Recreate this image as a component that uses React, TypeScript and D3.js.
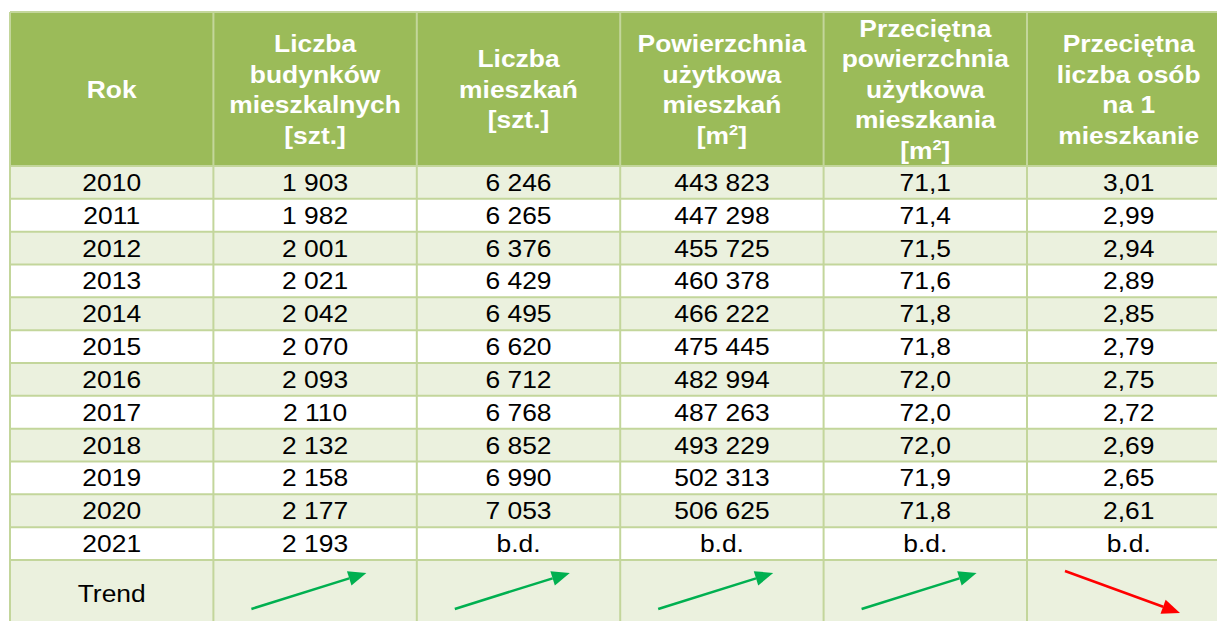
import React from "react"
import * as d3 from "d3"

// Data
const years = ["2010", "2011", "2012", "2013", "2014", "2015", "2016", "2017", "2018", "2019", "2020", "2021"]
const buildings = [1903, 1982, 2001, 2021, 2042, 2070, 2093, 2110, 2132, 2158, 2177, 2193]
const dwellings = [6246, 6265, 6376, 6429, 6495, 6620, 6712, 6768, 6852, 6990, 7053, null]
const usableArea = [443823, 447298, 455725, 460378, 466222, 475445, 482994, 487263, 493229, 502313, 506625, null]
const avgArea = [71.1, 71.4, 71.5, 71.6, 71.8, 71.8, 72.0, 72.0, 72.0, 71.9, 71.8, null]
const personsPerDwelling = [3.01, 2.99, 2.94, 2.89, 2.85, 2.79, 2.75, 2.72, 2.69, 2.65, 2.61, null]
const trends = ["up", "up", "up", "up", "down"]

// header lines; "^2" marks a superscript 2
const headers = [
  ["Rok"],
  ["Liczba", "budynków", "mieszkalnych", "[szt.]"],
  ["Liczba", "mieszkań", "[szt.]"],
  ["Powierzchnia", "użytkowa", "mieszkań", "[m^2]"],
  ["Przeciętna", "powierzchnia", "użytkowa", "mieszkania", "[m^2]"],
  ["Przeciętna", "liczba osób", "na 1", "mieszkanie"],
]

const pl = d3.formatLocale({ decimal: ",", thousands: " ", grouping: [3], currency: ["", " zł"] })
const fmtInt = pl.format(",d")
const fmt1 = pl.format(".1f")
const fmt2 = pl.format(".2f")
const na = "b.d."

const columns = [
  years,
  buildings.map(v => fmtInt(v)),
  dwellings.map(v => (v == null ? na : fmtInt(v))),
  usableArea.map(v => (v == null ? na : fmtInt(v))),
  avgArea.map(v => (v == null ? na : fmt1(v))),
  personsPerDwelling.map(v => (v == null ? na : fmt2(v))),
]

const W = 1217
const H = 621
const FONT = "Arial, 'Liberation Sans', sans-serif"
const HEAD_BG = "#9BBB59"
const ROW_BG = "#EBF1DE"
const BORDER = "#C3D69B"
const FS = 24
const SX = 1.1 // text in the source is a little wider than plain Arial

export default function App() {
  const top = 12
  const headBottom = 166
  const rowH = 32.83
  const trendH = 66

  const x = d3.scaleBand<number>()
    .domain(d3.range(headers.length))
    .range([10, 10 + 6 * 203.4])
  const y = d3.scaleBand<number>()
    .domain(d3.range(years.length))
    .range([headBottom, headBottom + rowH * years.length])
  const trendTop = headBottom + rowH * years.length
  const bottom = trendTop + trendH
  const cx = (i: number) => (x(i) as number) + x.bandwidth() / 2
  const left = x(0) as number
  const right = (x(headers.length - 1) as number) + x.bandwidth()

  const headLine = 30.5
  const headMid = (top + headBottom) / 2

  const renderHeadLine = (s: string) => {
    if (s.includes("^2")) {
      const [a, b] = s.split("^2")
      return (
        <>
          {a}
          <tspan fontSize={15} dy={-9}>2</tspan>
          <tspan dy={9}>{b}</tspan>
        </>
      )
    }
    return s
  }

  return (
    <svg width={W} height={H} style={{ position: "absolute", left: 0, top: 0, background: "#fff" }}>
      {/* header */}
      <rect x={left} y={top} width={right - left} height={headBottom - top} fill={HEAD_BG} />
      {headers.map((lines, c) => (
        <text key={c} transform={`translate(${cx(c)},0) scale(${SX},1)`} textAnchor="middle" fill="#fff"
          fontFamily={FONT} fontWeight="bold" fontSize={FS}>
          {lines.map((l, k) => (
            <tspan key={k} x={0} y={headMid + (k - (lines.length - 1) / 2) * headLine + 9}>
              {renderHeadLine(l)}
            </tspan>
          ))}
        </text>
      ))}

      {/* rows */}
      {years.map((_, r) => (
        <rect key={r} x={left} y={y(r)} width={right - left} height={y.bandwidth()} fill={r % 2 === 0 ? ROW_BG : "#fff"} />
      ))}
      <rect x={left} y={trendTop} width={right - left} height={trendH} fill={ROW_BG} />

      {columns.map((col, c) =>
        col.map((v, r) => (
          <text key={`${c}-${r}`} transform={`translate(${cx(c)},0) scale(${SX},1)`} x={0}
            y={(y(r) as number) + y.bandwidth() / 2 + 8.5}
            textAnchor="middle" fontFamily={FONT} fontSize={FS} fill="#000">
            {v}
          </text>
        ))
      )}
      <text transform={`translate(${cx(0)},0) scale(${SX},1)`} x={0} y={trendTop + 34 + 8.5}
        textAnchor="middle" fontFamily={FONT} fontSize={FS} fill="#000">Trend</text>

      {/* trend arrows */}
      {trends.map((t, i) => {
        const bx = x(i + 1) as number
        const up = t === "up"
        const x1 = bx + 38
        const x2 = bx + 153
        const y1 = trendTop + (up ? 49 : 11)
        const y2 = trendTop + (up ? 13 : 53)
        const color = up ? "#00B050" : "#FF0000"
        const ang = Math.atan2(y2 - y1, x2 - x1)
        const len = 18
        const half = 7.5
        const bxp = x2 - len * Math.cos(ang)
        const byp = y2 - len * Math.sin(ang)
        const px = -Math.sin(ang) * half
        const py = Math.cos(ang) * half
        return (
          <g key={i}>
            <line x1={x1} y1={y1} x2={bxp} y2={byp} stroke={color} strokeWidth={2.5} />
            <polygon points={`${x2},${y2} ${bxp + px},${byp + py} ${bxp - px},${byp - py}`} fill={color} />
          </g>
        )
      })}

      {/* borders */}
      <g stroke={BORDER} strokeWidth={2}>
        <line x1={left} x2={right} y1={top} y2={top} />
        <line x1={left} x2={right} y1={headBottom} y2={headBottom} />
        {years.map((_, r) => (
          <line key={r} x1={left} x2={right} y1={(y(r) as number) + y.bandwidth()} y2={(y(r) as number) + y.bandwidth()} />
        ))}
        {d3.range(headers.length + 1).map(c => {
          const xx = c < headers.length ? (x(c) as number) : right
          return <line key={c} x1={xx} x2={xx} y1={top} y2={bottom} />
        })}
      </g>
    </svg>
  )
}
